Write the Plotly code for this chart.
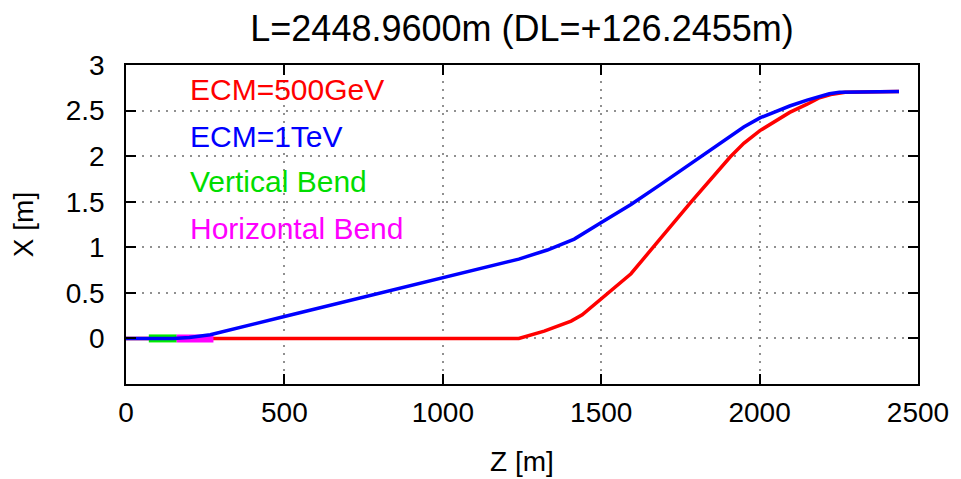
import plotly.graph_objects as go

# ECM = 500 GeV trajectory
z_500 = [0, 250, 500, 930, 1120, 1240, 1320, 1405, 1440, 1499, 1594, 1688, 1782, 1907, 1950, 2001, 2050, 2095, 2150, 2189, 2230, 2270, 2440]
x_500 = [0, 0, 0, 0, 0, 0.0, 0.08, 0.19, 0.26, 0.43, 0.71, 1.10, 1.49, 1.99, 2.14, 2.28, 2.39, 2.48, 2.57, 2.64, 2.68, 2.70, 2.71]

# ECM = 1 TeV trajectory
z_1t = [0, 150, 200, 266, 500, 1000, 1240, 1330, 1415, 1499, 1594, 1688, 1782, 1860, 1907, 1950, 2001, 2050, 2095, 2150, 2189, 2220, 2252, 2440]
x_1t = [0, 0, 0.01, 0.04, 0.24, 0.66, 0.87, 0.97, 1.09, 1.27, 1.47, 1.69, 1.92, 2.11, 2.22, 2.32, 2.42, 2.49, 2.55, 2.615, 2.65, 2.685, 2.70, 2.71]

# Bend sections
z_vbend = [72, 160]
x_vbend = [0, 0]
z_hbend = [160, 276]
x_hbend = [0, 0]

legend_labels = ["ECM=500GeV", "ECM=1TeV", "Vertical Bend", "Horizontal Bend"]
legend_colors = ["#ff0000", "#0000ff", "#00dd00", "#ff00ff"]
legend_ypos = [0.924, 0.776, 0.634, 0.489]

title_text = "L=2448.9600m (DL=+126.2455m)"

FONT = "Liberation Sans, Arial, sans-serif"

fig = go.Figure()
fig.add_trace(go.Scatter(x=z_500, y=x_500, mode="lines", line=dict(color="#ff0000", width=3.5)))
fig.add_trace(go.Scatter(x=z_vbend, y=x_vbend, mode="lines", line=dict(color="#00ee00", width=8)))
fig.add_trace(go.Scatter(x=z_hbend, y=x_hbend, mode="lines", line=dict(color="#ff00ff", width=8)))
fig.add_trace(go.Scatter(x=z_1t, y=x_1t, mode="lines", line=dict(color="#0000ff", width=3.5)))

for lab, col, yp in zip(legend_labels, legend_colors, legend_ypos):
    fig.add_annotation(x=0.078, y=yp, xref="paper", yref="paper", text=lab,
                       showarrow=False, xanchor="left", yanchor="middle",
                       font=dict(family=FONT, size=30, color=col))

axis_common = dict(
    showline=True, linecolor="black", linewidth=1.5, mirror="allticks",
    ticks="inside", ticklen=10, tickcolor="black", tickwidth=1.5,
    showgrid=True, gridcolor="#909090", griddash="1.5px,6.5px", gridwidth=1.5,
    zeroline=False, tickfont=dict(family=FONT, size=28, color="black"),
)

fig.update_layout(
    width=961, height=479,
    margin=dict(l=111, r=51, t=57, b=103),
    plot_bgcolor="white", paper_bgcolor="white",
    showlegend=False,
    title=dict(text=title_text, x=0.5, xref="paper", xanchor="center", y=0.958, yanchor="middle",
               font=dict(family=FONT, size=36, color="black")),
    xaxis=dict(range=[0, 2500], tickvals=[0, 500, 1000, 1500, 2000, 2500],
               ticklabelstandoff=3,
               title=dict(text="Z [m]", font=dict(family=FONT, size=28, color="black"), standoff=24),
               **axis_common),
    yaxis=dict(range=[-0.5, 3], tickvals=[0, 0.5, 1, 1.5, 2, 2.5, 3],
               ticktext=["0", "0.5", "1", "1.5", "2", "2.5", "3"],
               ticklabelstandoff=14,
               title=dict(text="X [m]", font=dict(family=FONT, size=28, color="black"), standoff=26),
               **axis_common),
)

fig.write_html("out.html")
